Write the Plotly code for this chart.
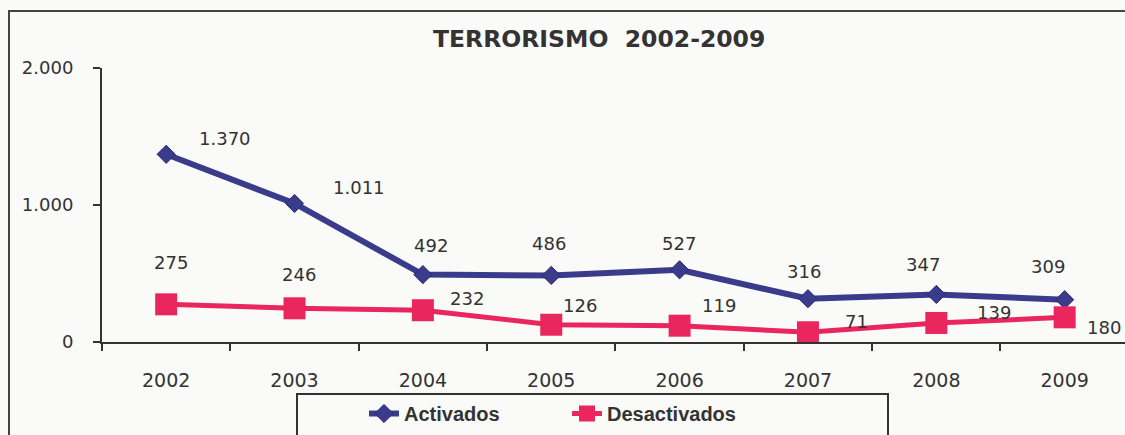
import plotly.graph_objects as go

years = ["2002", "2003", "2004", "2005", "2006", "2007", "2008", "2009"]
activados = [1370, 1011, 492, 486, 527, 316, 347, 309]
desactivados = [275, 246, 232, 126, 119, 71, 139, 180]
y_tick_vals = [0, 1000, 2000]
y_tick_text = ["0", "1.000", "2.000"]

# label offsets (pixels) relative to points
act_off = [(59, 16), (64, 16), (8, 29), (-2, 32), (-1, 26), (-4, 27), (-13, 30), (-17, 33)]
des_off = [(5, 42), (4, 34), (44, 12), (29, 19), (39, 20), (49, 11), (58, 10), (39, -10)]

NAVY = "#3B3B8C"
PINK = "#E9265D"
TXT = "#333333"
BG = "#FAFAF8"


def fmt(v):
    return f"{v:,}".replace(",", ".")


fig = go.Figure()
fig.add_trace(go.Scatter(
    x=years, y=activados, name="Activados", mode="lines+markers",
    line=dict(color=NAVY, width=6),
    marker=dict(symbol="diamond", size=14, color=NAVY, line=dict(color="#2A2A70", width=1)),
))
fig.add_trace(go.Scatter(
    x=years, y=desactivados, name="Desactivados", mode="lines+markers",
    line=dict(color=PINK, width=5),
    marker=dict(symbol="square", size=22, color=PINK),
))

annotations = []
for series, offs in ((activados, act_off), (desactivados, des_off)):
    for i, v in enumerate(series):
        dx, dy = offs[i]
        annotations.append(dict(x=i, y=v, xref="x", yref="y", text=fmt(v), showarrow=False,
                                xshift=dx, yshift=dy, xanchor="center", yanchor="middle",
                                font=dict(family="DejaVu Sans", size=18, color=TXT)))

annotations.append(dict(xref="paper", yref="paper", x=(599 - 102) / 1023, y=(342 - 39) / 274,
                        text="<b>TERRORISMO  2002-2009</b>", showarrow=False,
                        xanchor="center", yanchor="middle",
                        font=dict(family="DejaVu Sans", size=23.5, color=TXT)))

shapes = [
    # outer frame
    dict(type="rect", xref="paper", yref="paper", x0=(9 - 102) / 1023, x1=1.05,
         y0=-0.5, y1=(342 - 11) / 274, line=dict(color="#444444", width=2)),
    # legend box
    dict(type="rect", xref="paper", yref="paper", x0=(297 - 102) / 1023, x1=(888 - 102) / 1023,
         y0=-0.5, y1=(342 - 394) / 274, line=dict(color="#333333", width=2)),
]

fig.update_layout(
    width=1125, height=435,
    margin=dict(l=102, r=0, t=68, b=93),
    paper_bgcolor=BG, plot_bgcolor=BG,
    showlegend=True,
    legend=dict(orientation="h", x=(364 - 102) / 1023, xanchor="left",
                y=(342 - 394) / 274, yanchor="top",
                font=dict(family="Liberation Sans", size=20, color=TXT, weight="bold"),
                bgcolor="rgba(0,0,0,0)", entrywidth=158, entrywidthmode="pixels",
                itemclick=False),
    annotations=annotations,
    shapes=shapes,
    xaxis=dict(type="category", range=[-0.5, 7.47], showline=True, linecolor="#333333", linewidth=2,
               ticks="outside", tickson="boundaries", ticklen=7, tickwidth=2, tickcolor="#333333",
               showgrid=False, zeroline=False, ticklabelstandoff=20,
               tickfont=dict(family="DejaVu Sans", size=19, color=TXT)),
    yaxis=dict(range=[0, 2000], tickvals=y_tick_vals, ticktext=y_tick_text,
               showline=True, linecolor="#333333", linewidth=2,
               ticks="outside", ticklen=7, tickwidth=2, tickcolor="#333333",
               showgrid=False, zeroline=False, ticklabelstandoff=16,
               tickfont=dict(family="DejaVu Sans", size=18, color=TXT)),
)

fig.write_html("out.html")
